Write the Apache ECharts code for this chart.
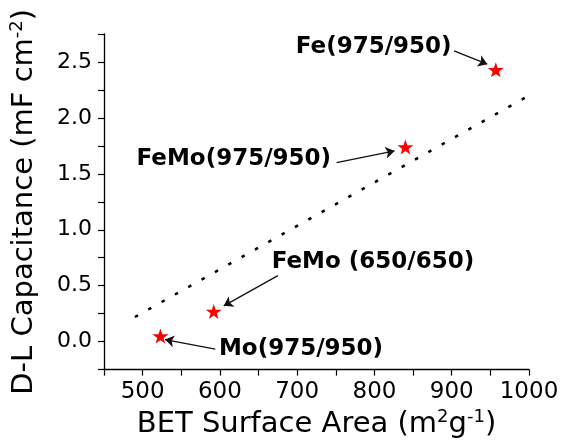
<!DOCTYPE html>
<html>
<head>
<meta charset="utf-8">
<script src="https://cdn.jsdelivr.net/npm/echarts@6/dist/echarts.min.js"></script>
<style>
html,body{margin:0;padding:0;background:#fff;}
#chart{width:564px;height:444px;}
</style>
</head>
<body>
<div id="chart"></div>
<script>
// ---- data ----
const samples = ['Mo(975/950)', 'FeMo (650/650)', 'FeMo(975/950)', 'Fe(975/950)'];
const surfaceArea = [523, 592, 840, 957];
const capacitance = [0.05, 0.27, 1.74, 2.43];
const fitX = [490, 1000];
const fitY = [0.22, 2.20];
const labelX = [705, 798, 618, 799];
const labelY = [-0.07, 0.71, 1.63, 2.63];
const arrowFromX = [594, 675, 751, 903];
const arrowFromY = [-0.066, 0.59, 1.60, 2.60];
const arrowToX = [529, 605, 826, 946];
const arrowToY = [0.018, 0.32, 1.705, 2.48];
const xMin = 450, xMax = 1000, xStep = 50;
const yMin = -0.25, yMax = 2.75, yStep = 0.25;

const STAR = 'path://M50 0 L61.8 35.1 L98.9 34.5 L69.1 56.7 L79.4 90.5 L50 70 L20.6 90.5 L30.9 56.7 L1.1 34.5 L38.2 35.1 Z';
const FONT = 'DejaVu Sans';

const chart = echarts.init(document.getElementById('chart'), null, {renderer: 'canvas'});
const axisCommon = {
  axisLine: {show: true, onZero: false, lineStyle: {color: '#000', width: 1.3}},
  axisTick: {show: true, inside: false, length: 6, lineStyle: {color: '#000', width: 1.2}},
  splitLine: {show: false},
  nameLocation: 'middle',
  nameTextStyle: {fontFamily: FONT, fontSize: 29, color: '#000',
    rich: {sup: {fontFamily: FONT, fontSize: 18, color: '#000', padding: [0, 0, 14, 0]}}}
};
chart.setOption({
  animation: false,
  backgroundColor: '#fff',
  grid: {left: 103, right: 35, top: 34, bottom: 72, containLabel: false},
  xAxis: Object.assign({}, axisCommon, {
    type: 'value', min: xMin, max: xMax, interval: xStep,
    name: 'BET Surface Area (m{sup|2}g{sup|-1})', nameGap: 38,
    axisLabel: {fontFamily: FONT, fontSize: 23, color: '#000', margin: 11,
      formatter: v => (Math.round(v) % 100 === 0 ? String(Math.round(v)) : '')}
  }),
  yAxis: Object.assign({}, axisCommon, {
    type: 'value', min: yMin, max: yMax, interval: yStep,
    name: 'D-L Capacitance (mF cm{sup|-2})', nameGap: 64,
    axisLabel: {fontFamily: FONT, fontSize: 22, color: '#000', margin: 12,
      formatter: v => (Math.abs(Math.round(v * 100) % 50) === 0 && v > -0.01 ? v.toFixed(1) : '')}
  }),
  series: [
    {
      type: 'line', data: fitX.map((x, i) => [x, fitY[i]]), symbol: 'none', silent: true,
      lineStyle: {color: '#000', width: 2.5, type: [3.5, 11.8], cap: 'butt', opacity: 1}
    },
    {
      type: 'lines', coordinateSystem: 'cartesian2d', silent: true,
      symbol: ['none', 'arrow'], symbolSize: [0, 9],
      lineStyle: {color: '#111', width: 1.3, opacity: 1, curveness: 0},
      data: arrowFromX.map((x, i) => ({coords: [[x, arrowFromY[i]], [arrowToX[i], arrowToY[i]]]}))
    },
    {
      type: 'scatter', symbol: STAR, symbolSize: [16, 15],
      itemStyle: {color: '#ff0000', opacity: 1},
      data: surfaceArea.map((x, i) => [x, capacitance[i]])
    },
    {
      type: 'scatter', symbolSize: 0, silent: true,
      itemStyle: {opacity: 1},
      data: labelX.map((x, i) => ({value: [x, labelY[i]], name: samples[i]})),
      label: {show: true, position: 'inside', formatter: p => p.name, opacity: 1,
        fontFamily: FONT, fontWeight: 'bold', fontSize: 23, color: '#000',
        textBorderWidth: 0}
    }
  ]
});
</script>
</body>
</html>
